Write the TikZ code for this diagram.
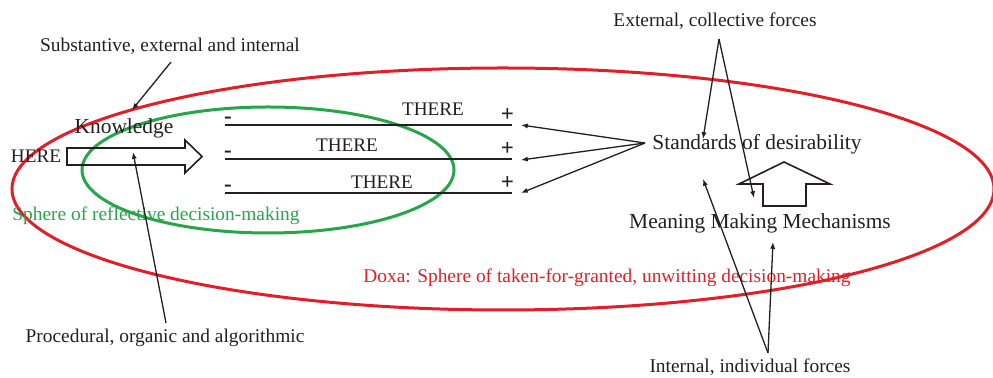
\documentclass[tikz,border=0pt]{standalone}
\usepackage{fontspec}
\setmainfont{Liberation Serif}
\usetikzlibrary{arrows.meta}
\definecolor{doxared}{RGB}{228,30,38}
\definecolor{reflgreen}{RGB}{38,166,72}
\definecolor{ink}{RGB}{35,31,32}
\begin{document}
\begin{tikzpicture}[x=0.5pt,y=-0.5pt,
  base/.style={inner sep=0pt, text=ink},
  main/.style={base, font=\fontsize{10.7}{12}\selectfont},
  caps/.style={base, font=\fontsize{9.6}{11}\selectfont},
  note/.style={base, font=\fontsize{9.7}{11}\selectfont},
  signmark/.style={base, font=\fontsize{11.5}{12}\selectfont\bfseries},
  conn/.style={draw=ink, line width=0.65pt, -{Latex[length=3.4pt,width=2.6pt]}},
  sphere/.style={line width=1.5pt},
  bar/.style={draw=ink, line width=0.85pt},
  hollow/.style={draw=ink, line width=0.8pt, line join=miter}]
\useasboundingbox (0,0) rectangle (993,378);

% the two spheres
\draw[sphere, doxared] (503,189) ellipse [x radius=245.5pt, y radius=60.5pt];
\draw[sphere, reflgreen] (268,170) ellipse [x radius=93pt, y radius=31.5pt];

% hollow arrows
\draw[hollow] (67,148) -- (185,148) -- (185,140) -- (202,156.5) -- (185,173)
  -- (185,165) -- (67,165) -- cycle;
\draw[hollow] (763,206) -- (763,184) -- (739,184) -- (784,162) -- (830,184)
  -- (806,184) -- (806,206) -- cycle;

% texts
\node[caps, anchor=base] (here) at (36,163) {HERE};
\node[main, anchor=base] (know) at (124,134) {Knowledge};
\node[note, anchor=base] (subst) at (170,52) {Substantive, external and internal};
\node[note, anchor=base] (proc) at (165,343) {Procedural, organic and algorithmic};
\node[note, anchor=base west, text=reflgreen] (refl) at (12,221) {Sphere of reflective decision-making};
\node[note, anchor=base, text=doxared] (doxa) at (607,283) {Doxa: Sphere of taken-for-granted, unwitting decision-making};
\node[main, anchor=base west] (stand) at (652,150) {Standards of desirability};
\node[main, anchor=base] (mmm) at (760,229) {Meaning Making Mechanisms};
\node[note, anchor=base] (ext) at (715,27) {External, collective forces};
\node[note, anchor=base] (int) at (750,373) {Internal, individual forces};

% the three paths towards THERE
\foreach \i/\y/\tx/\ty in {1/125/433/116, 2/159/347/152, 3/193/382/189} {
  \coordinate (l\i) at (225,\y);
  \coordinate (r\i) at (512,\y);
  \draw[bar] (l\i) -- (r\i);
  \node[caps, anchor=base] (there\i) at (\tx,\ty) {THERE};
  \node[signmark] (minus\i) at (228,\y-4.5) {-};
  \node[signmark] (plus\i) at (507.5,\y-10) {+};
}

% connector end points
\coordinate (substfoot) at (171,62);
\coordinate (substtip) at (132,110);
\coordinate (procfoot) at (166,323);
\coordinate (proctip) at (133,152);
\coordinate (standfoot) at (645,143);
\coordinate (plustip1) at (521,125);
\coordinate (plustip2) at (521,160);
\coordinate (plustip3) at (521,193);
\coordinate (extfoot) at (719,39);
\coordinate (exttip1) at (703,139);
\coordinate (exttip2) at (754,198);
\coordinate (intfoot) at (768,353);
\coordinate (inttip1) at (703,179);
\coordinate (inttip2) at (773,242);

% connectors
\draw[conn] (substfoot) -- (substtip);
\draw[conn] (procfoot) -- (proctip);
\foreach \i in {1,2,3} \draw[conn] (standfoot) -- (plustip\i);
\draw[conn] (extfoot) -- (exttip1);
\draw[conn] (extfoot) -- (exttip2);
\draw[conn] (intfoot) -- (inttip1);
\draw[conn] (intfoot) -- (inttip2);
\end{tikzpicture}
\end{document}
